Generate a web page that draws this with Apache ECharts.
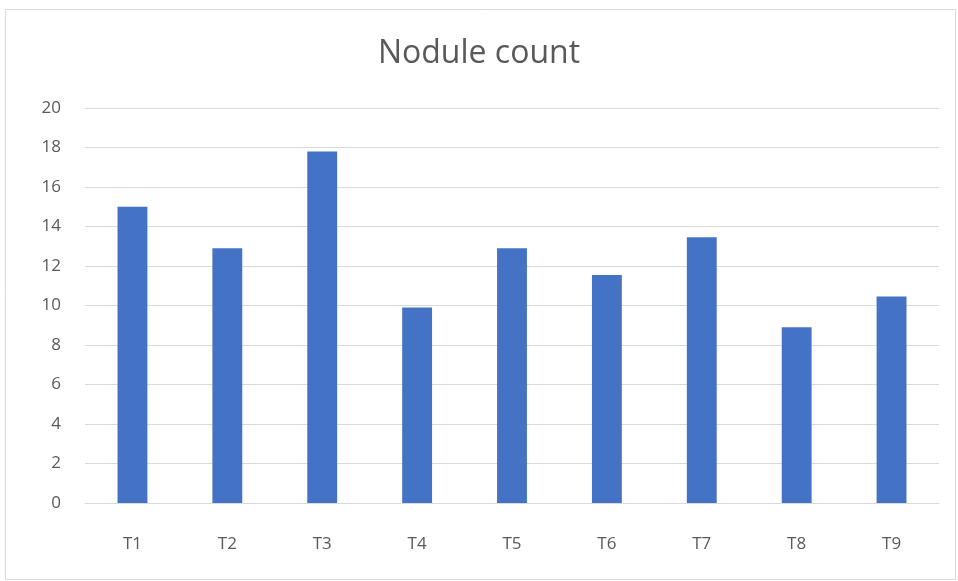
<!DOCTYPE html>
<html><head><meta charset="utf-8">
<script src="https://cdn.jsdelivr.net/npm/echarts@6/dist/echarts.min.js"></script>
<style>html,body{margin:0;padding:0;background:#fff;}#c{width:958px;height:581px;}</style>
</head><body><div id="c"></div>
<script>
const categories = ['T1','T2','T3','T4','T5','T6','T7','T8','T9'];
const noduleCount = [15, 12.9, 17.8, 9.9, 12.9, 11.55, 13.45, 8.9, 10.45];
const yTicks = {min: 0, max: 20, interval: 2};
const titleText = 'Nodule count';

const chart = echarts.init(document.getElementById('c'), null, {renderer: 'canvas'});
chart.setOption({
  animation: false,
  backgroundColor: '#fff',
  graphic: [{
    type: 'rect', silent: true, z: -1,
    shape: {x: 5.5, y: 9.5, width: 950, height: 570},
    style: {fill: 'none', stroke: '#d9d9d9', lineWidth: 1}
  }],
  title: {
    text: titleText, left: 'center', top: 33,
    textStyle: {fontFamily: 'Open Sans', fontWeight: 'normal', fontSize: 32, color: '#595959'}
  },
  grid: {left: 85, right: 19, top: 108, bottom: 78, containLabel: false},
  xAxis: {
    type: 'category', data: categories,
    axisLine: {show: true, lineStyle: {color: '#d9d9d9', width: 1}},
    axisTick: {show: false},
    axisLabel: {color: '#595959', fontSize: 17, fontFamily: 'Open Sans', margin: 33}
  },
  yAxis: {
    type: 'value', min: yTicks.min, max: yTicks.max, interval: yTicks.interval,
    axisLine: {show: false}, axisTick: {show: false},
    splitLine: {lineStyle: {color: '#d9d9d9', width: 1}},
    axisLabel: {color: '#595959', fontSize: 17, fontFamily: 'Open Sans', margin: 24}
  },
  series: [{
    type: 'bar', data: noduleCount, barWidth: '31.5%',
    itemStyle: {color: '#4472c4'}
  }]
});
</script></body></html>
